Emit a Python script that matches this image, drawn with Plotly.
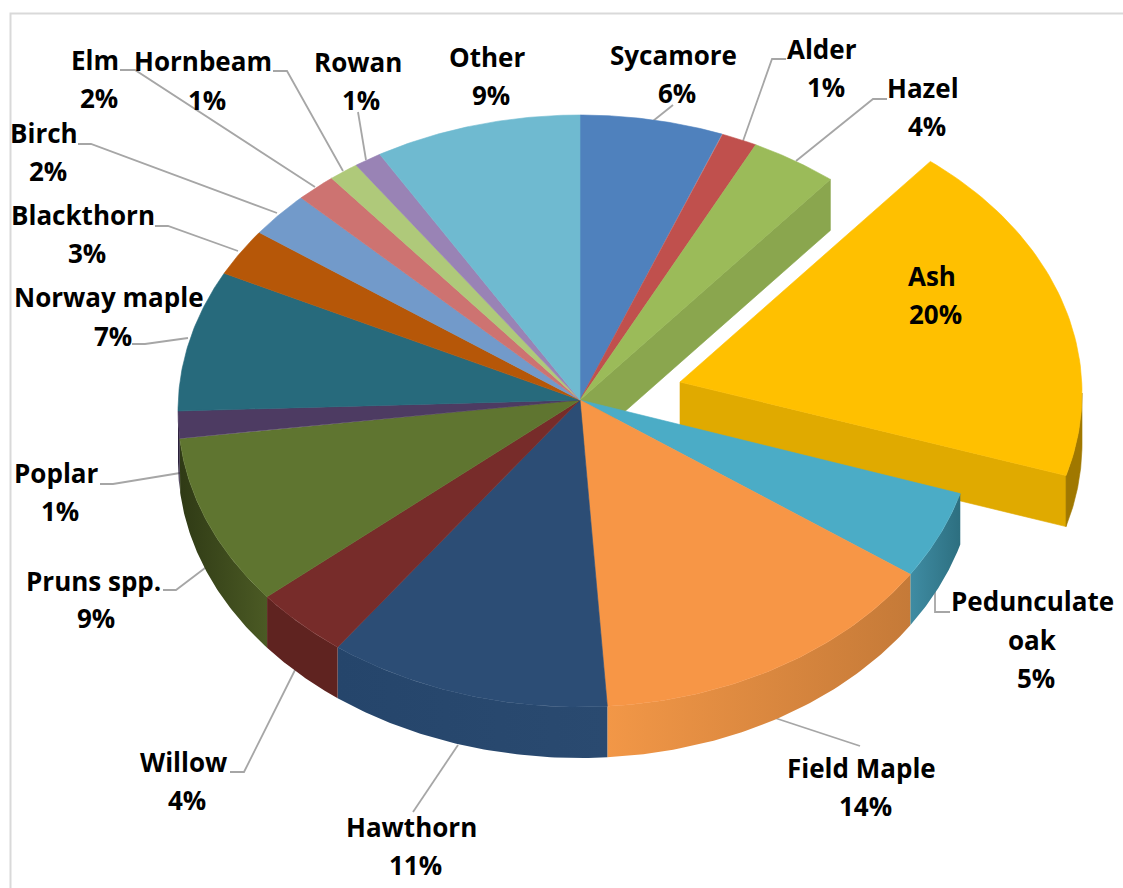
import math
import plotly.graph_objects as go

names = ["Sycamore", "Alder", "Hazel", "Ash", "Pedunculate oak", "Field Maple", "Hawthorn", "Willow",
         "Pruns spp.", "Poplar", "Norway maple", "Blackthorn", "Birch", "Elm", "Hornbeam", "Rowan", "Other"]
percent_labels = [6, 1, 4, 20, 5, 14, 11, 4, 9, 1, 7, 3, 2, 2, 1, 1, 9]
# slice sizes as measured on the drawn pie (per cent of the circle)
slice_sizes = [5.75, 1.45, 3.5, 18.8, 4.8, 14.6, 11.4, 3.9, 9.3, 1.5, 7.7, 2.6, 2.5, 1.6, 1.2, 1.1, 8.3]
top_colors = ["#4f81bd", "#c0504d", "#9bbb59", "#ffc000", "#4bacc6", "#f79646", "#2c4d75", "#772c2a",
              "#5f7530", "#4d3b62", "#276a7c", "#b65708", "#729aca", "#cd7371", "#afc97a", "#9983b5", "#6fbad0"]
wall_left = ["#3f668f", "#994040", "#8aa64e", "#a07800", "#3f8ca3", "#f29747", "#25456b", "#5f2320",
             "#2f3a15", "#2a1f3a", "#1f5563", "#8f4506", "#5b7aa2", "#a45c5a", "#8ca162", "#7a6990", "#5995a6"]
wall_right = ["#3f668f", "#994040", "#8aa64e", "#a07800", "#2d6f80", "#c57a38", "#2a4a70", "#5f2320",
              "#4b5a24", "#2a1f3a", "#1f5563", "#8f4506", "#5b7aa2", "#a45c5a", "#8ca162", "#7a6990", "#5995a6"]
hazel_face = "#8aa64e"
ash_face = "#e0aa00"

# layout of the drawing, in the pixel-sized axes
CX, CY, EY, RX, RY, DEPTH = 580, 400, 411, 402, 296, 51
RX_FRONT_RIGHT = 396  # the perspective pulls the front right of the pie in a little
EXPLODE = {"Ash": (100, -18)}

label_pos = {
    "Sycamore": [(673, 55), (677, 93)], "Alder": [(822, 49), (826, 87)], "Hazel": [(923, 88), (927, 126)],
    "Ash": [(932, 276), (935, 314)], "Pedunculate oak": [(1032, 601), (1032, 640), (1036, 678)],
    "Field Maple": [(861, 768), (865, 806)], "Hawthorn": [(411, 827), (415, 865)], "Willow": [(183, 762), (187, 800)],
    "Pruns spp.": [(93, 581), (96, 618)], "Poplar": [(56, 473), (60, 511)], "Norway maple": [(109, 297), (113, 336)],
    "Blackthorn": [(83, 215), (87, 253)], "Birch": [(44, 133), (48, 171)], "Elm": [(95, 60), (99, 98)],
    "Hornbeam": [(203, 61), (207, 100)], "Rowan": [(358, 62), (361, 100)], "Other": [(487, 57), (491, 95)],
}
leaders = [
    [(653, 121), (673, 105)], [(743, 141), (772, 59), (786, 59)], [(796, 161), (873, 99), (887, 99)],
    [(120, 70), (135, 70), (315, 187)], [(273, 71), (287, 71), (343, 171)], [(358, 112), (366, 160)],
    [(78, 144), (91, 144), (277, 213)], [(155, 226), (168, 226), (238, 251)], [(132, 344), (145, 344), (188, 338)],
    [(100, 484), (113, 484), (180, 473)], [(163, 590), (176, 590), (209, 565)], [(230, 772), (244, 772), (296, 668)],
    [(413, 812), (458, 745)], [(775, 718), (860, 746)], [(935, 590), (935, 612), (950, 612)],
]


def arc(a0, a1, dx=0, dy=0, drop=0, n=60):
    pts = []
    for i in range(n + 1):
        deg = a0 + (a1 - a0) * i / n
        t = math.radians(deg)
        rx = RX_FRONT_RIGHT if dx == 0 and 90 <= deg <= 180 else RX
        pts.append((CX + dx + rx * math.sin(t), EY + dy + drop - RY * math.cos(t)))
    return pts


def poly(fig, pts, color=None, grad=None):
    xs = [p[0] for p in pts] + [pts[0][0]]
    ys = [p[1] for p in pts] + [pts[0][1]]
    kw = dict(x=xs, y=ys, mode="lines", fill="toself", hoverinfo="skip", showlegend=False)
    if grad:
        fig.add_trace(go.Scatter(line=dict(width=0), fillcolor=grad[0],
                                 fillgradient=dict(type="horizontal", colorscale=[[0, grad[0]], [1, grad[1]]]), **kw))
    else:
        fig.add_trace(go.Scatter(line=dict(width=0.6, color=color), fillcolor=color, **kw))


fig = go.Figure()

for path in leaders:
    fig.add_trace(go.Scatter(x=[p[0] for p in path], y=[p[1] for p in path], mode="lines",
                             line=dict(color="#a6a6a6", width=1.8), hoverinfo="skip", showlegend=False))

# angular spans of every slice
spans = []
acc = 0.0
total = sum(slice_sizes)
for s in slice_sizes:
    spans.append((acc / total * 360, (acc + s) / total * 360))
    acc += s

by_name = dict(zip(names, range(len(names))))

# Ash: cut face and outer wall, furthest back of the visible sides
ia = by_name["Ash"]
a0, a1 = spans[ia]
dx, dy = EXPLODE["Ash"]
end_top = arc(a1, a1, dx, dy, n=1)[0]
apex = (CX + dx, CY + dy)
poly(fig, [apex, end_top, (end_top[0], end_top[1] + DEPTH), (apex[0], apex[1] + DEPTH)], ash_face)
poly(fig, arc(max(a0, 90), a1, dx, dy) + arc(a1, max(a0, 90), dx, dy, DEPTH), wall_left[ia])

# Hazel: the cut face that looks into the gap
ih = by_name["Hazel"]
h_end = arc(spans[ih][1], spans[ih][1], n=1)[0]
poly(fig, [(CX, CY), h_end, (h_end[0], h_end[1] + DEPTH), (CX, CY + DEPTH)], hazel_face)

# outer walls of the slices in place
for i, (a0, a1) in enumerate(spans):
    if names[i] in EXPLODE or not (a1 > 90 and a0 < 270):
        continue
    lo, hi = max(a0, 90), min(a1, 270)
    pts = arc(lo, hi) + arc(hi, lo, drop=DEPTH)
    poly(fig, pts, grad=(wall_left[i], wall_right[i]))

# top faces
for i, (a0, a1) in enumerate(spans):
    dx, dy = EXPLODE.get(names[i], (0, 0))
    poly(fig, [(CX + dx, CY + dy)] + arc(a0, a1, dx, dy), top_colors[i])

annotations = []
for name, pct in zip(names, percent_labels):
    parts = name.split(" ") if name == "Pedunculate oak" else [name]
    for text, (x, y) in zip(parts + [f"{pct}%"], label_pos[name]):
        annotations.append(dict(x=x, y=y, xref="x", yref="y", text=text, showarrow=False,
                                font=dict(family="Open Sans", size=26, color="#000000", weight="bold")))

fig.update_layout(
    width=1123, height=888, autosize=False, margin=dict(l=0, r=0, t=0, b=0),
    paper_bgcolor="white", plot_bgcolor="white", showlegend=False, annotations=annotations,
    xaxis=dict(range=[0, 1123], visible=False, fixedrange=True),
    yaxis=dict(range=[888, 0], visible=False, fixedrange=True),
    shapes=[dict(type="path", path="M 10.5 888 L 10.5 13.5 L 1123 13.5", xref="x", yref="y",
                 line=dict(color="#d9d9d9", width=2))],
)
fig.write_html("out.html", config={"displayModeBar": False},
               post_script="document.body.style.margin='0';document.documentElement.style.overflow='hidden';")
